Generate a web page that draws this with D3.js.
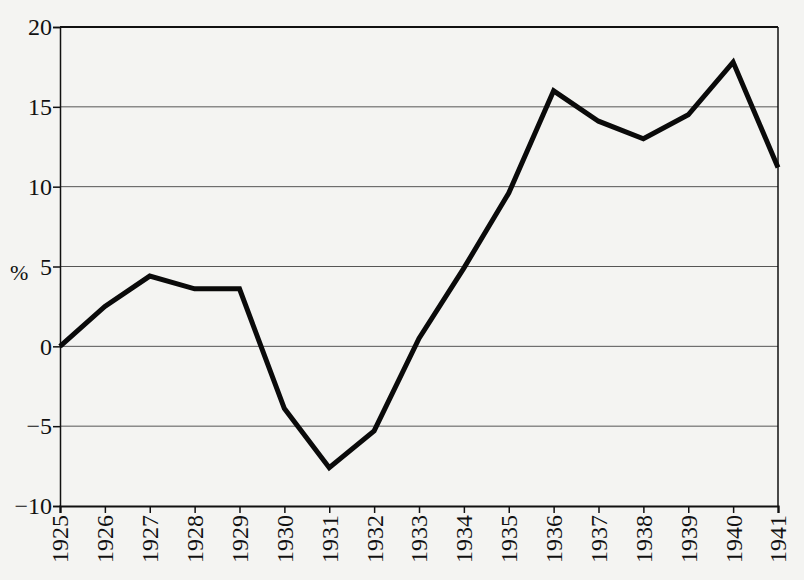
<!DOCTYPE html>
<html>
<head>
<meta charset="utf-8">
<script src="https://cdn.jsdelivr.net/npm/d3@7"></script>
<style>
  html, body { margin: 0; padding: 0; background: #f4f4f2; overflow: hidden; }
  svg { display: block; overflow: visible; }
  svg text { font-family: "Liberation Serif", "Times New Roman", serif; fill: #111; }
</style>
</head>
<body>
<div id="chart"></div>
<script>
const years = [1925, 1926, 1927, 1928, 1929, 1930, 1931, 1932, 1933,
  1934, 1935, 1936, 1937, 1938, 1939, 1940, 1941];
const values = [0, 2.5, 4.4, 3.6, 3.6, -3.9, -7.6, -5.3, 0.5,
  4.9, 9.6, 16.0, 14.1, 13.0, 14.5, 17.8, 11.2];
const yTicks = [-10, -5, 0, 5, 10, 15, 20];

const width = 804;
const height = 580;
const margin = { top: 27, right: 26, bottom: 74, left: 60 };
const innerWidth = width - margin.left - margin.right;
const innerHeight = height - margin.top - margin.bottom;

const svg = d3.select("#chart")
  .append("svg")
  .attr("width", width)
  .attr("height", height)
  .attr("viewBox", `0 0 ${width} ${height}`);

const g = svg.append("g")
  .attr("transform", `translate(${margin.left},${margin.top})`);

const x = d3.scaleLinear()
  .domain(d3.extent(years))
  .range([0, innerWidth]);

const y = d3.scaleLinear()
  .domain([-10, 20])
  .range([innerHeight, 0]);

// gridlines
g.append("g")
  .selectAll("line")
  .data(yTicks.filter((d) => d > -10 && d < 20))
  .enter()
  .append("line")
  .attr("x1", 0)
  .attr("x2", innerWidth)
  .attr("y1", (d) => y(d))
  .attr("y2", (d) => y(d))
  .attr("stroke", "#555")
  .attr("stroke-width", 1);

// frame: top and right
g.append("line")
  .attr("x1", 0).attr("x2", innerWidth)
  .attr("y1", 0).attr("y2", 0)
  .attr("stroke", "#111").attr("stroke-width", 2.2);
g.append("line")
  .attr("x1", innerWidth).attr("x2", innerWidth)
  .attr("y1", 0).attr("y2", innerHeight)
  .attr("stroke", "#111").attr("stroke-width", 1.5);

const yAxis = d3.axisLeft(y)
  .tickValues(yTicks)
  .tickSize(7)
  .tickPadding(1)
  .tickFormat((d) => (d < 0 ? `\u2212${-d}` : `${d}`));

const yAxisG = g.append("g").call(yAxis);
yAxisG.select(".domain").attr("stroke", "#111").attr("stroke-width", 1.5);
yAxisG.selectAll(".tick line").attr("stroke", "#111").attr("stroke-width", 1.5);
yAxisG.selectAll(".tick text")
  .style("font-size", "24px")
  .style("font-family", "'Liberation Serif', serif")
  .attr("fill", "#111");

// x axis: ticks from d3, labels placed separately so the rotation is explicit
const xAxis = d3.axisBottom(x)
  .tickValues(years)
  .tickSize(7)
  .tickFormat("");

const xAxisG = g.append("g")
  .attr("transform", `translate(0,${innerHeight})`)
  .call(xAxis);
xAxisG.select(".domain").attr("stroke", "#111").attr("stroke-width", 2.2);
xAxisG.selectAll(".tick line").attr("stroke", "#111").attr("stroke-width", 1.5);

g.append("g")
  .selectAll("text")
  .data(years)
  .enter()
  .append("text")
  .attr("transform", (d) => `translate(${x(d)},${innerHeight + 9}) rotate(-90)`)
  .attr("text-anchor", "end")
  .attr("dy", "0.35em")
  .style("font-size", "24px")
  .text((d) => d);

// % label
svg.append("text")
  .attr("x", 10)
  .attr("y", 272)
  .attr("dy", "0.35em")
  .style("font-size", "22px")
  .text("%");

const line = d3.line()
  .x((d, i) => x(years[i]))
  .y((d) => y(d));

g.append("path")
  .datum(values)
  .attr("fill", "none")
  .attr("stroke", "#0a0a0a")
  .attr("stroke-width", 5)
  .attr("stroke-linejoin", "miter")
  .attr("d", line);
</script>
</body>
</html>
